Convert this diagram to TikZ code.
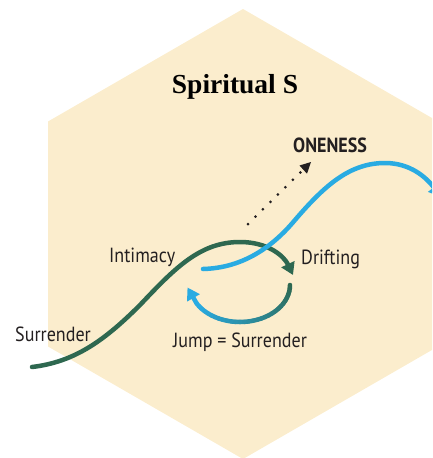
\documentclass[tikz,border=0pt]{standalone}
\usepackage{fontspec}
\setmainfont{Liberation Serif}
\newfontfamily\labelfont[FakeStretch=0.88]{PT Sans}
\newfontfamily\titlefont{Liberation Serif}
\usetikzlibrary{arrows.meta}
\definecolor{hexfill}{RGB}{251,237,205}
\definecolor{sgreen}{RGB}{46,104,80}
\definecolor{sblue}{RGB}{41,171,226}
\definecolor{sdark}{RGB}{35,31,32}
\tikzset{
  lbl/.style={inner sep=0pt, anchor=base west, text=sdark, font=\labelfont\fontsize{20.5}{24}\selectfont},
  boldlbl/.style={lbl, font=\labelfont\bfseries\fontsize{20.5}{24}\selectfont},
  titlelbl/.style={inner sep=0pt, anchor=base, text=black, font=\titlefont\bfseries\fontsize{27.5}{32}\selectfont},
  greenline/.style={draw=sgreen, line width=4.5pt, line cap=round},
  blueline/.style={draw=sblue, line width=4.5pt, line cap=round},
  dotline/.style={draw=sdark, line width=3pt, line cap=round, dash pattern=on 0pt off 10.5pt},
  bigtip/.style={-{Triangle[length=12pt,width=14pt]}},
}
\begin{document}
\begin{tikzpicture}[x=1pt,y=-1pt]
\useasboundingbox (0,0) rectangle (432,458);
\clip (0,0) rectangle (432,458);
% hexagon background
\fill[hexfill] (243,9) -- (438,121.5) -- (438,346.5) -- (243,459) -- (48,346.5) -- (48,121.5) -- cycle;

% title
\node[titlelbl] (title) at (235,93) {Spiritual S};

% labels
\node[boldlbl] (oneness) at (293,152) {ONENESS};
\node[lbl] (intimacy) at (109,262) {Intimacy};
\node[lbl] (drifting) at (301,264) {Drifting};
\node[lbl] (surrender) at (15,341) {Surrender};
\node[lbl] (jump) at (173,347) {Jump = Surrender};

% coordinates
\coordinate (g0) at (32,367);
\coordinate (g1) at (140,305);
\coordinate (g2) at (240,242);
\coordinate (g3) at (293,275);
\coordinate (b0) at (203,269);
\coordinate (b1) at (295,220);
\coordinate (b2) at (385,163);
\coordinate (b3) at (441,197);
\coordinate (d0) at (248,224);
\coordinate (d1) at (311,162);

% green S curve
\draw[greenline, bigtip] (g0) .. controls (75,362) and (105,340) .. (g1)
   .. controls (175,268) and (200,242) .. (g2)
   .. controls (268,242) and (284,256) .. (g3);

% dotted arrow to oneness
\draw[dotline] (d0) -- (d1);
\draw[draw=none, fill=sdark] (d1) -- ++(-11.5,3.5) -- ++(7.5,8.2) -- cycle;

% blue curve
\draw[blueline, bigtip] (b0) .. controls (240,268) and (270,250) .. (b1)
   .. controls (325,185) and (350,163) .. (b2)
   .. controls (410,163) and (426,177) .. (b3);

% lower loop with gradient green -> blue
\foreach \i in {0,...,29} {
  \pgfmathsetmacro\a{\i*5}
  \pgfmathsetmacro\b{\i*5+5}
  \pgfmathsetmacro\p{\i*100/29}
  \draw[line width=4.5pt, line cap=round, draw=sblue!\p!sgreen]
    ({240+50*cos(\a)},{285+37*sin(\a)}) -- ({240+50*cos(\b)},{285+37*sin(\b)});
}
\coordinate (l0) at ({240+50*cos(150)},{285+37*sin(150)});
\coordinate (l1) at (187.5,287.5);
\draw[blueline, line cap=butt, bigtip] (l0) -- (l1);
\end{tikzpicture}
\end{document}
